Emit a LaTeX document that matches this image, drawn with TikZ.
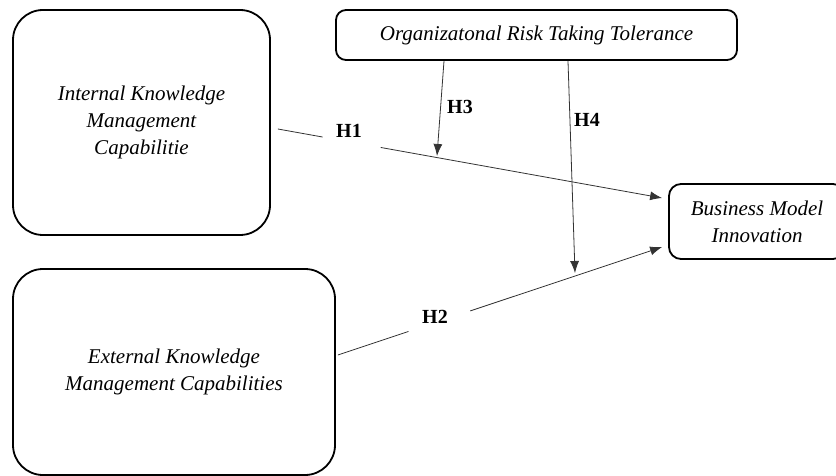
\documentclass[tikz,border=0pt]{standalone}
\usepackage{fontspec}
\setmainfont{Liberation Serif}
\usetikzlibrary{arrows.meta}

\begin{document}
\begin{tikzpicture}[x=1pt,y=-1pt,
  box/.style={draw,line width=1.8pt,rounded corners=#1,align=center,inner sep=0pt,
    font=\fontsize{21}{27}\selectfont\itshape},
  box/.default=30pt,
  arr/.style={-{Latex[length=12pt,width=9pt]},line width=0.8pt,draw=black!80},
  gap/.style={fill=white,inner sep=0pt,minimum height=5pt,sloped,minimum width=#1},
  hyp/.style={font=\fontsize{20}{20}\selectfont\bfseries}]
  \useasboundingbox (0,0) rectangle (836,476);
  \clip (0,0) rectangle (836,476);
  % Rutor
  \node[box,minimum width=257pt,minimum height=225pt] (ikm) at (141.5,122.5)
    {Internal Knowledge\\Management\\Capabilitie};
  \node[box,minimum width=322pt,minimum height=206pt] (ekm) at (174,372)
    {External Knowledge\\Management Capabilities};
  \node[box=10pt,minimum width=401pt,minimum height=50pt] (ort) at (536.5,35)
    {Organizatonal Risk Taking Tolerance};
  \node[box=12pt,minimum width=176pt,minimum height=75pt] (bmi) at (757,221.5)
    {Business Model\\Innovation};
  % Pilar
  \coordinate (h3end) at (437,156);
  \coordinate (h4end) at (575,273);
  \draw[arr] ([shift={(7,6.5)}]ikm.east) -- node[gap=59pt,pos=0.192] {}
    ([shift={(-6,-23.5)}]bmi.west);
  \draw[arr] ([shift={(2,-17)}]ekm.east) -- node[gap=65pt,pos=0.313] {}
    ([shift={(-6,25.5)}]bmi.west);
  \draw[arr] ([xshift=-92.5pt]ort.south) -- (h3end);
  \draw[arr] ([xshift=31.5pt]ort.south) -- (h4end);
  % Etiketter
  \node[hyp] (h1) at (349,131) {H1};
  \node[hyp] (h2) at (435,317) {H2};
  \node[hyp] (h3) at (460,107) {H3};
  \node[hyp] (h4) at (587,120) {H4};
\end{tikzpicture}
\end{document}
